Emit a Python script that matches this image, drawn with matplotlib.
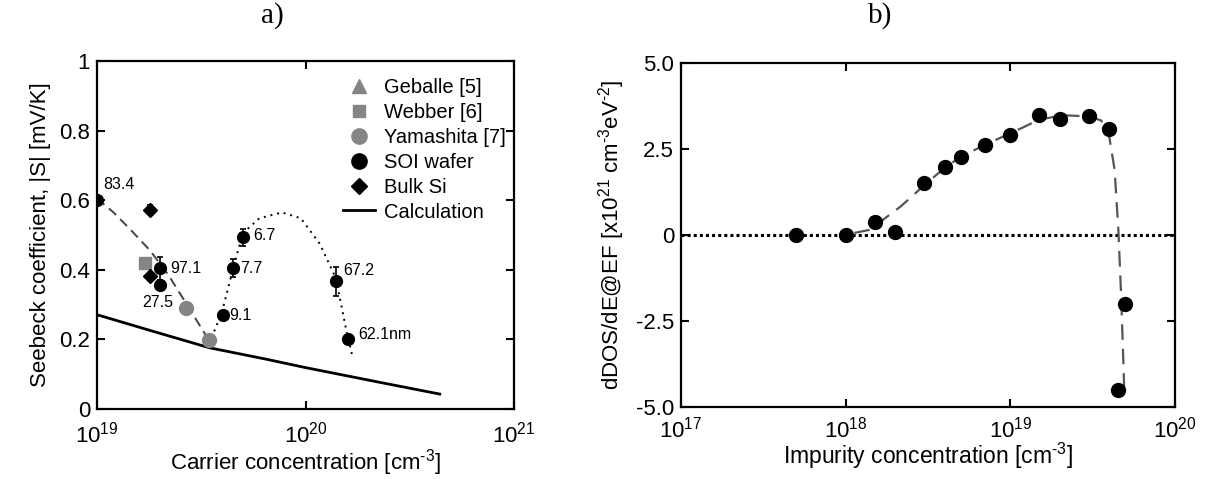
import numpy as np
import matplotlib
matplotlib.use("Agg")
import matplotlib.pyplot as plt

plt.rcParams["font.family"] = ["Liberation Sans", "DejaVu Sans"]
plt.rcParams["mathtext.fontset"] = "custom"
plt.rcParams["mathtext.rm"] = "Liberation Sans"
plt.rcParams["mathtext.it"] = "Liberation Sans:italic"
plt.rcParams["axes.unicode_minus"] = False

# ---- panel a) data ----
soi_x = [1.0e19, 2.0e19, 2.0e19, 4.0e19, 4.5e19, 5.0e19, 1.40e20, 1.59e20]
soi_y = [0.600, 0.405, 0.357, 0.270, 0.405, 0.493, 0.367, 0.200]
soi_err = [0.0, 0.033, 0.0, 0.0, 0.027, 0.024, 0.042, 0.0]
soi_labels = ["83.4", "97.1", "", "9.1", "7.7", "6.7", "67.2", "62.1nm"]

bulk_x = [1.80e19, 1.80e19]
bulk_y = [0.573, 0.381]
bulk_err = [0.013, 0.0]

webber_x = [1.69e19]
webber_y = [0.419]

geballe_x = []
geballe_y = []

yama_x = [2.68e19, 3.46e19]
yama_y = [0.290, 0.197]
yama_labels = ["27.5", ""]

calc_x = [1.0e19, 1.84e19, 3.46e19, 6.5e19, 1.0e20, 2.3e20, 4.4e20]
calc_y = [0.271, 0.224, 0.176, 0.143, 0.119, 0.076, 0.043]

dash_x = [1.0e19, 1.2e19, 1.45e19, 1.80e19, 2.20e19, 2.70e19, 3.46e19]
dash_y = [0.605, 0.565, 0.515, 0.455, 0.385, 0.300, 0.195]

dot_x = [3.55e19, 4.0e19, 4.5e19, 5.0e19, 6.0e19, 7.7e19, 9.5e19, 1.17e20, 1.40e20, 1.57e20, 1.68e20]
dot_y = [0.205, 0.285, 0.405, 0.505, 0.548, 0.565, 0.548, 0.475, 0.375, 0.225, 0.150]

# ---- panel b) data ----
imp_x = [5.0e17, 1.0e18, 1.5e18, 2.0e18, 3.0e18, 4.0e18, 5.0e18, 7.0e18,
         1.0e19, 1.5e19, 2.0e19, 3.0e19, 4.0e19, 4.5e19, 5.0e19]
ddos_y = [0.0, 0.0, 0.37, 0.10, 1.50, 1.98, 2.27, 2.61,
          2.90, 3.48, 3.38, 3.45, 3.09, -4.52, -2.01]

fit_x = [1.13e18, 1.40e18, 2.16e18, 3.01e18, 3.96e18, 4.98e18, 6.95e18, 9.91e18,
         1.21e19, 1.49e19, 2.07e19, 2.99e19, 3.56e19, 3.96e19, 4.30e19,
         4.53e19, 4.71e19, 4.86e19, 4.91e19]
fit_y = [0.06, 0.15, 0.83, 1.45, 1.94, 2.27, 2.61, 2.95,
         3.14, 3.35, 3.48, 3.45, 3.33, 2.95, 1.89,
         0.15, -1.77, -3.70, -4.42]

fig = plt.figure(figsize=(12.05, 4.79), dpi=100)
ax1 = fig.add_axes([0.0805, 0.1461, 0.3461, 0.7265])
ax2 = fig.add_axes([0.5651, 0.1503, 0.4100, 0.7182])

gray = "#858585"

# panel a
ax1.plot(calc_x, calc_y, color="black", lw=2.0, zorder=2)
ax1.plot(dash_x, dash_y, color="#444444", lw=1.4, ls=(0, (5, 3)), zorder=2)
ax1.plot(dot_x, dot_y, color="black", lw=1.4, ls=(0, (1, 2.5)), zorder=2)

ax1.plot(webber_x, webber_y, "s", color=gray, ms=8, ls="none", zorder=3)
ax1.plot(yama_x, yama_y, "o", color=gray, ms=10, ls="none", zorder=3)
ax1.errorbar(soi_x, soi_y, yerr=soi_err, fmt="o", color="black", ms=8.5,
             capsize=2.5, elinewidth=1.2, capthick=1.2, zorder=4)
ax1.errorbar(bulk_x, bulk_y, yerr=bulk_err, fmt="D", color="black", ms=7,
             capsize=2.5, elinewidth=1.2, capthick=1.2, zorder=4)

label_offsets = {"83.4": (6, 16), "97.1": (10, 0), "9.1": (7, 0), "7.7": (7, 0),
                 "6.7": (10, 2), "67.2": (7, 11), "62.1nm": (11, 5)}
for x, y, t in zip(soi_x, soi_y, soi_labels):
    if t:
        ax1.annotate(t, (x, y), xytext=label_offsets[t], textcoords="offset pixels",
                     ha="left", va="center", fontsize=11.5)
for x, y, t in zip(yama_x, yama_y, yama_labels):
    if t:
        ax1.annotate(t, (x, y), xytext=(-13, 6), textcoords="offset pixels",
                     ha="right", va="center", fontsize=11.5)

# legend entries
h_geb, = ax1.plot(geballe_x, geballe_y, "^", color=gray, ms=10, ls="none")
h_web, = ax1.plot([], [], "s", color=gray, ms=9, ls="none")
h_yam, = ax1.plot([], [], "o", color=gray, ms=11, ls="none")
h_soi, = ax1.plot([], [], "o", color="black", ms=11, ls="none")
h_blk, = ax1.plot([], [], "D", color="black", ms=8, ls="none")
h_calc, = ax1.plot([], [], color="black", lw=2.0)
ax1.legend([h_geb, h_web, h_yam, h_soi, h_blk, h_calc],
           ["Geballe [5]", "Webber [6]", "Yamashita [7]", "SOI wafer", "Bulk Si", "Calculation"],
           loc="upper right", bbox_to_anchor=(1.01, 0.985),
           frameon=False, fontsize=14.5, handlelength=1.6, handletextpad=0.45,
           labelspacing=0.29, borderaxespad=0.2)

ax1.set_xscale("log")
ax1.set_xlim(1e19, 1e21)
ax1.set_ylim(0, 1)
ax1.set_xticks([1e19, 1e20, 1e21])
ax1.set_xticklabels(["10$^{19}$", "10$^{20}$", "10$^{21}$"])
ax1.set_yticks([0, 0.2, 0.4, 0.6, 0.8, 1.0])
ax1.set_yticklabels(["0", "0.2", "0.4", "0.6", "0.8", "1"])
ax1.set_xlabel("Carrier concentration [cm$^{\\text{-3}}$]", fontsize=16, labelpad=0)
ax1.set_ylabel("Seebeck coefficient, |S| [mV/K]", fontsize=16, labelpad=6)

# panel b
ax2.axhline(0, color="black", lw=2.2, ls=(0, (1, 1)), zorder=1)
ax2.plot(fit_x, fit_y, color="#555555", lw=1.6, ls=(0, (7, 4)), zorder=2)
ax2.plot(imp_x, ddos_y, "o", color="black", ms=10, ls="none", zorder=3)

ax2.set_xscale("log")
ax2.set_xlim(1e17, 1e20)
ax2.set_ylim(-5, 5)
ax2.set_xticks([1e17, 1e18, 1e19, 1e20])
ax2.set_xticklabels(["10$^{17}$", "10$^{18}$", "10$^{19}$", "10$^{20}$"])
ax2.set_yticks([-5, -2.5, 0, 2.5, 5])
ax2.set_yticklabels(["-5.0", "-2.5", "0", "2.5", "5.0"])
ax2.set_xlabel("Impurity concentration [cm$^{\\text{-3}}$]", fontsize=16.5, labelpad=-1)
ax2.set_ylabel("dDOS/dE@EF [x10$^{21}$ cm$^{\\text{-3}}$eV$^{\\text{-2}}$]", fontsize=16, labelpad=6)

for ax in (ax1, ax2):
    ax.minorticks_off()
    ax.tick_params(which="major", direction="in", length=6, width=1.5,
                   top=True, right=True, labelsize=16, pad=5)
    for s in ax.spines.values():
        s.set_linewidth(1.6)
ax1.tick_params(axis="x", pad=9)
ax2.tick_params(axis="x", pad=7)

fig.text(272 / 1205, 1 - 16 / 479, "a)", family=["Liberation Serif", "DejaVu Serif"],
         fontsize=21, ha="center", va="center")
fig.text(880 / 1205, 1 - 16 / 479, "b)", family=["Liberation Serif", "DejaVu Serif"],
         fontsize=21, ha="center", va="center")

fig.savefig("out.png", dpi=100)
